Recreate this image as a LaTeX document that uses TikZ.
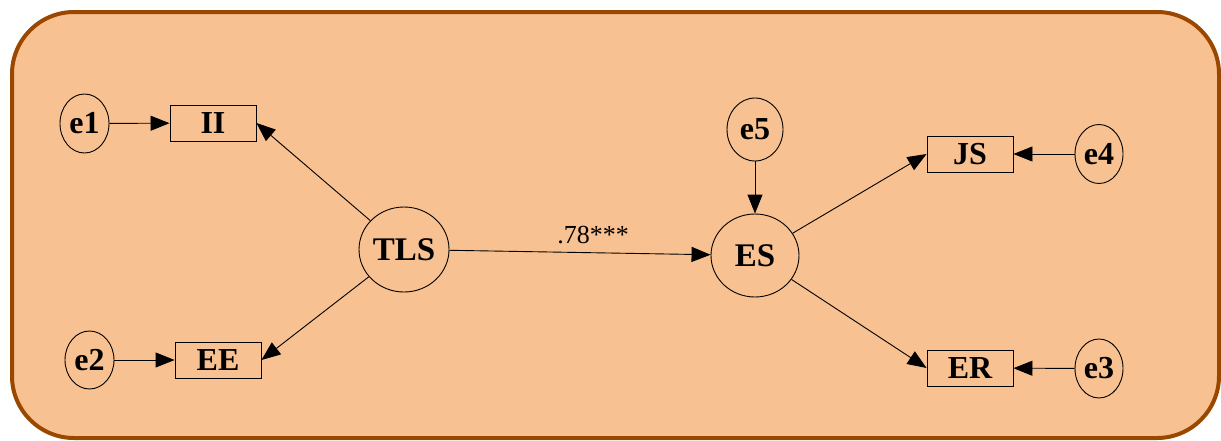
\documentclass[tikz,border=0pt]{standalone}
\usepackage{fontspec}
\setmainfont{Liberation Serif}
\usetikzlibrary{arrows.meta,shapes.geometric}
\definecolor{panelfill}{HTML}{F8C191}
\definecolor{panelline}{HTML}{9A4700}
\tikzset{
  lat/.style={ellipse,draw,line width=0.9pt,inner sep=0pt,
    font=\fontsize{33}{33}\selectfont\bfseries},
  err/.style={ellipse,draw,line width=0.9pt,inner sep=0pt,
    font=\fontsize{32}{32}\selectfont\bfseries},
  obs/.style={rectangle,draw,line width=0.9pt,minimum width=86pt,minimum height=36pt,
    inner sep=0pt,font=\fontsize{32}{32}\selectfont\bfseries},
  path/.style={line width=0.9pt,-{Triangle[length=19pt,width=15pt]}},
  coef/.style={font=\fontsize{26}{26}\selectfont}
}
\begin{document}
\begin{tikzpicture}[x=1pt,y=-1pt]
  \useasboundingbox (0,0) rectangle (1221,440);
  % background panel
  \draw[fill=panelfill,draw=panelline,line width=4pt,rounded corners=62pt]
    (12,12) rectangle (1219,438);

  % latent variables
  \node[lat,minimum width=90pt,minimum height=85pt] (TLS) at (404,249.5) {TLS};
  \node[lat,minimum width=88pt,minimum height=83pt] (ES) at (755,255.5) {ES};

  % indicators
  \node[obs] (II) at (213,123) {II};
  \node[obs] (EE) at (218,360) {EE};
  \node[obs] (JS) at (970,154) {JS};
  \node[obs] (ER) at (970,368) {ER};

  % error terms
  \node[err,minimum width=49pt,minimum height=59pt] (e1) at (84.5,123.5) {e1};
  \node[err,minimum width=49pt,minimum height=58pt] (e2) at (89.5,360) {e2};
  \node[err,minimum width=48pt,minimum height=59pt] (e4) at (1099,154) {e4};
  \node[err,minimum width=48pt,minimum height=59pt] (e3) at (1099,368.5) {e3};
  \node[err,minimum width=56pt,minimum height=63pt] (e5) at (755,129.5) {e5};

  % paths
  \draw[path] (e1) -- (II);
  \draw[path] (e2) -- (EE);
  \draw[path] (e4) -- (JS);
  \draw[path] (e3) -- (ER);
  \draw[path] (e5) -- (ES);
  \draw[path] (TLS) -- (II.east);
  \draw[path] (TLS) -- (EE.east);
  \draw[path] (ES) -- (JS.west);
  \draw[path] (ES) -- (ER.west);
  \draw[path] (TLS) -- node[coef,above=5pt,pos=0.55] (b1) {.78***} (ES);
\end{tikzpicture}
\end{document}
